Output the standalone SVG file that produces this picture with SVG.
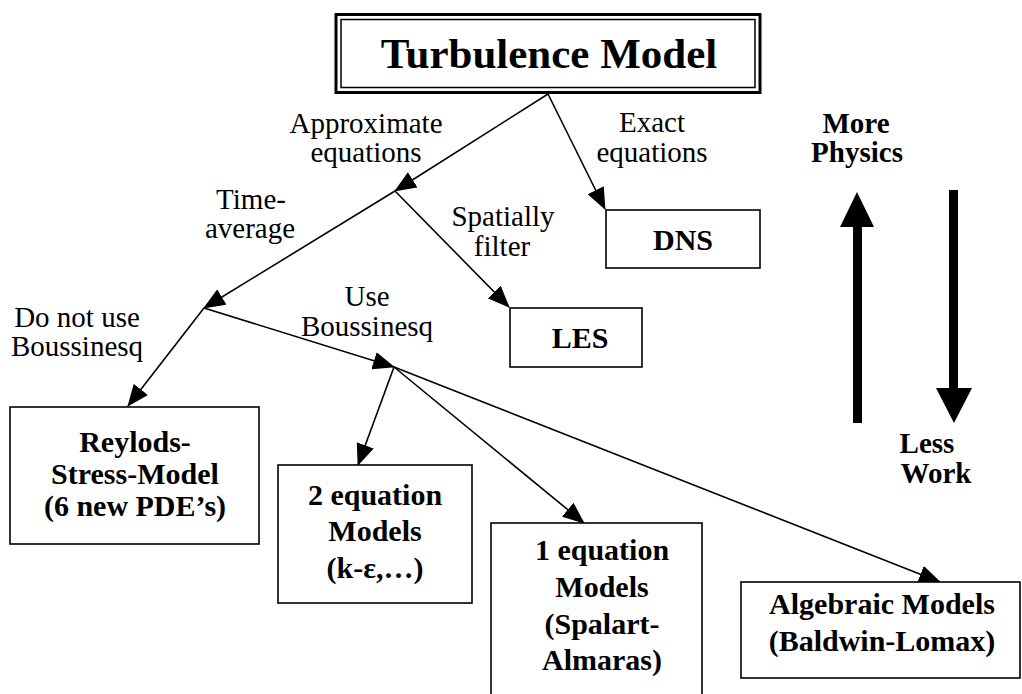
<svg xmlns="http://www.w3.org/2000/svg" width="1022" height="694" viewBox="0 0 1022 694">
<defs>
<style>
.box{fill:#fff;stroke:#000;stroke-width:1.6}
.lbl{font-family:"Liberation Serif","Times New Roman",serif;font-size:29px;fill:#000;text-anchor:middle}
.nt{font-family:"Liberation Serif","Times New Roman",serif;font-size:30px;font-weight:bold;fill:#000;text-anchor:middle}
.edge{stroke:#000;stroke-width:1.6;fill:none;marker-end:url(#ah)}
</style>
<marker id="ah" markerWidth="22" markerHeight="18" refX="21" refY="9" orient="auto" markerUnits="userSpaceOnUse">
<path d="M0,0 L22,9 L0,18 z" fill="#000"/>
</marker>
</defs>
<rect width="1022" height="694" fill="#fff"/>

<g id="connectors">
<line class="edge" x1="548" y1="94" x2="395" y2="191"/>
<line class="edge" x1="548" y1="94" x2="605" y2="209"/>
<line class="edge" x1="395" y1="191" x2="204" y2="308"/>
<line class="edge" x1="395" y1="191" x2="509" y2="307"/>
<line class="edge" x1="204" y1="308" x2="128" y2="406"/>
<line class="edge" x1="204" y1="308" x2="394" y2="367"/>
<line class="edge" x1="394" y1="367" x2="358" y2="465"/>
<line class="edge" x1="394" y1="367" x2="584" y2="523"/>
<line class="edge" x1="394" y1="367" x2="940" y2="582"/>
</g>

<g id="edge-labels">
<text class="lbl" x="366" y="133">Approximate</text>
<text class="lbl" x="366" y="162">equations</text>
<text class="lbl" x="652" y="132">Exact</text>
<text class="lbl" x="652" y="162">equations</text>
<text class="lbl" x="251" y="209">Time-</text>
<text class="lbl" x="250" y="238">average</text>
<text class="lbl" x="503" y="226">Spatially</text>
<text class="lbl" x="502" y="256">filter</text>
<text class="lbl" x="77" y="327">Do not use</text>
<text class="lbl" x="77" y="356">Boussinesq</text>
<text class="lbl" x="367" y="306">Use</text>
<text class="lbl" x="367" y="336">Boussinesq</text>
</g>

<g id="turbulence-model">
<rect x="336" y="14.5" width="424" height="78" fill="#fff" stroke="#000" stroke-width="3"/>
<rect x="341" y="19.5" width="414" height="68" fill="none" stroke="#000" stroke-width="1.5"/>
<text class="nt" x="549" y="68" style="font-size:43px">Turbulence Model</text>
</g>

<g id="dns">
<rect class="box" x="606" y="210" width="154" height="58"/>
<text class="nt" x="683" y="250">DNS</text>
</g>

<g id="les">
<rect class="box" x="510" y="308" width="132" height="59"/>
<text class="nt" x="580" y="348">LES</text>
</g>

<g id="reynolds-stress">
<rect class="box" x="10" y="407" width="249" height="137"/>
<text class="nt" x="135" y="452">Reylods-</text>
<text class="nt" x="135" y="484">Stress-Model</text>
<text class="nt" x="135" y="516">(6 new PDE’s)</text>
</g>

<g id="two-equation">
<rect class="box" x="278" y="465" width="194" height="138"/>
<text class="nt" x="375" y="505">2 equation</text>
<text class="nt" x="375" y="541">Models</text>
<text class="nt" x="375" y="578">(k-ε,…)</text>
</g>

<g id="one-equation">
<rect class="box" x="491" y="523" width="211" height="175"/>
<text class="nt" x="602" y="560">1 equation</text>
<text class="nt" x="602" y="597">Models</text>
<text class="nt" x="602" y="634">(Spalart-</text>
<text class="nt" x="602" y="670">Almaras)</text>
</g>

<g id="algebraic">
<rect class="box" x="741" y="582" width="279" height="96"/>
<text class="nt" x="882" y="614">Algebraic Models</text>
<text class="nt" x="882" y="651">(Baldwin-Lomax)</text>
</g>

<g id="more-physics">
<polygon points="853,423 862,423 862,227 874,227 857,192 840,227 853,227" fill="#000"/>
<text class="nt" x="856" y="133" style="font-size:29px">More</text>
<text class="nt" x="857" y="162" style="font-size:29px">Physics</text>
</g>

<g id="less-work">
<polygon points="949,190 958,190 958,388 972,388 954,423 936,388 949,388" fill="#000"/>
<text class="nt" x="927" y="453" style="font-size:29px">Less</text>
<text class="nt" x="936" y="483" style="font-size:29px">Work</text>
</g>
</svg>
